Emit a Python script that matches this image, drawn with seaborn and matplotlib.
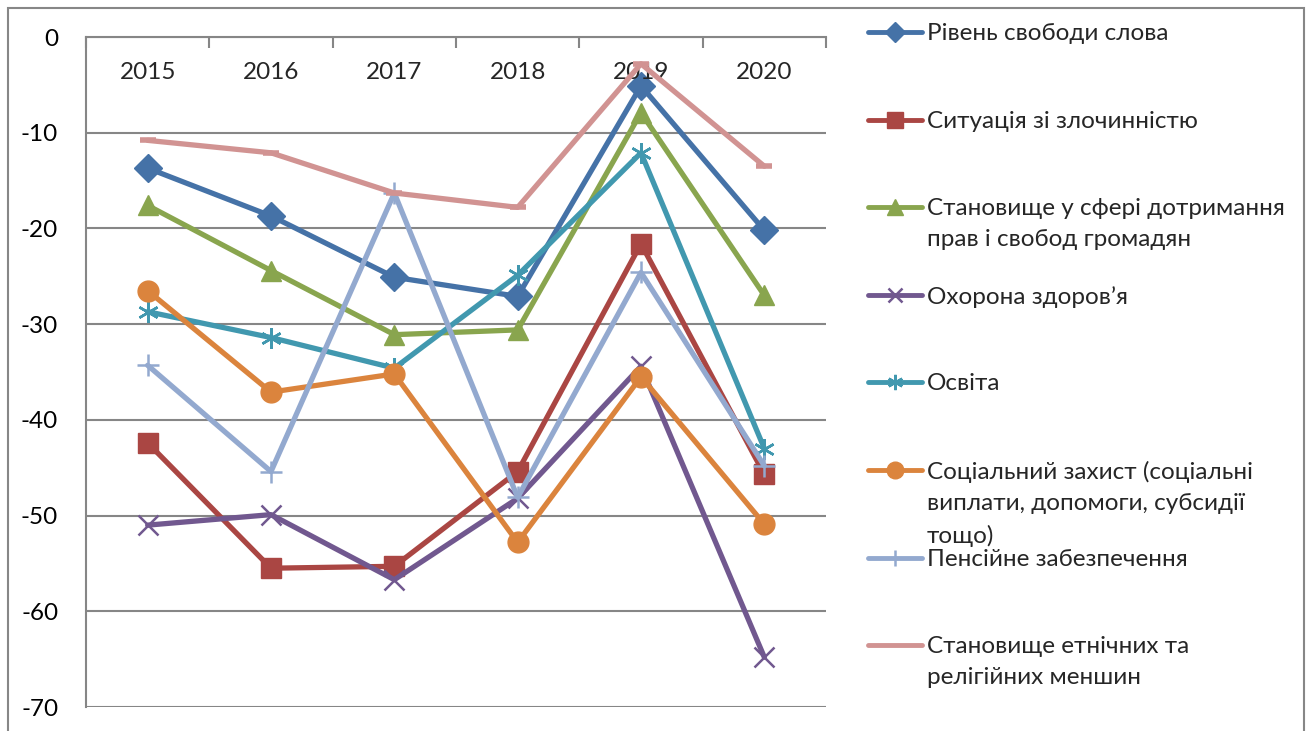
import matplotlib
matplotlib.use("Agg")
import matplotlib.pyplot as plt
import matplotlib.patches as mpatches
from matplotlib.lines import Line2D
import seaborn as sns
import pandas as pd

years = [2015, 2016, 2017, 2018, 2019, 2020]

svoboda_slova = [-13.7, -18.7, -25.1, -27.1, -5.1, -20.2]
zlochynnist = [-42.4, -55.5, -55.3, -45.4, -21.6, -45.7]
prava_svobody = [-17.6, -24.4, -31.1, -30.6, -7.9, -27.0]
okhorona_zdorovia = [-51.0, -49.9, -56.7, -48.2, -34.4, -64.8]
osvita = [-28.7, -31.4, -34.6, -24.9, -12.1, -43.0]
sotsialnyi_zakhyst = [-26.5, -37.1, -35.2, -52.8, -35.5, -50.9]
pensiine = [-34.3, -45.4, -16.3, -48.1, -24.6, -44.8]
menshyny = [-10.8, -12.1, -16.3, -17.8, -2.8, -13.5]

labels = [
    "Рівень свободи слова",
    "Ситуація зі злочинністю",
    "Становище у сфері дотримання\nправ і свобод громадян",
    "Охорона здоров’я",
    "Освіта",
    "Соціальний захист (соціальні\nвиплати, допомоги, субсидії\nтощо)",
    "Пенсійне забезпечення",
    "Становище етнічних та\nрелігійних меншин",
]
series = [svoboda_slova, zlochynnist, prava_svobody, okhorona_zdorovia,
          osvita, sotsialnyi_zakhyst, pensiine, menshyny]

colors = ["#4572A7", "#AA4643", "#89A54E", "#71588F",
          "#4198AF", "#DB843D", "#93A9CF", "#D19392"]
markers = ["D", "s", "^", "x", (6, 2, 0), "o", "+", "_"]
msizes = [14, 14, 15, 14, 15, 15, 16, 12]
mews = [1, 1, 1, 1.8, 1.8, 1, 1.8, 4]

sns.set_style("white")
plt.rcParams["font.family"] = ["Lato", "DejaVu Sans"]
plt.rcParams["axes.unicode_minus"] = False

W, H = 1312, 731
fig = plt.figure(figsize=(W / 100, H / 100), dpi=100)
ax = fig.add_axes([86 / W, 1 - 707 / H, (826 - 86) / W, (707 - 37) / H])

grid_col = "#868686"
for i, vals in enumerate(series):
    df = pd.DataFrame({"year": years, "value": vals})
    sns.lineplot(data=df, x="year", y="value", ax=ax, color=colors[i],
                 linewidth=3.8, marker=markers[i], markersize=msizes[i],
                 markeredgewidth=mews[i], markeredgecolor=colors[i],
                 zorder=3 + i)

ax.set_xlim(2014.5, 2020.5)
ax.set_ylim(-70, 0)
ax.set_xlabel("")
ax.set_ylabel("")

ax.set_yticks(range(-70, 1, 10))
ax.yaxis.grid(True, color=grid_col, linewidth=1.5)
ax.tick_params(axis="y", direction="out", length=8, width=1.5, color=grid_col,
               labelsize=17.5, pad=12, labelcolor="black")

ax.xaxis.tick_top()
ax.set_xticks([y - 0.5 for y in years] + [2020.5])
ax.tick_params(axis="x", direction="in", length=8, width=1.5, color=grid_col,
               labeltop=False, labelbottom=False)
for y in years:
    ax.text(y, -3.75, str(y), ha="center", va="center", fontsize=17.5)

for s in ["right", "bottom"]:
    ax.spines[s].set_visible(False)
for s in ["top", "left"]:
    ax.spines[s].set_color(grid_col)
    ax.spines[s].set_linewidth(1.5)

# legend, spaced evenly like the original
leg_x0, leg_x1 = 868 / W, 922 / W
leg_tx = 927 / W
leg_ms = [10, 11, 11, 10, 11, 12, 12, 0]
for i, lab in enumerate(labels):
    yc = 1 - (32 + 87.6 * i) / H
    fig.add_artist(Line2D([leg_x0, leg_x1], [yc, yc], transform=fig.transFigure,
                          color=colors[i], linewidth=3.5, solid_capstyle="round"))
    if leg_ms[i]:
        fig.add_artist(Line2D([(leg_x0 + leg_x1) / 2], [yc], transform=fig.transFigure,
                              color=colors[i], marker=markers[i], markersize=leg_ms[i],
                              markeredgewidth=mews[i], markeredgecolor=colors[i]))
    fig.text(leg_tx, yc + 9 / H, lab, ha="left", va="top", fontsize=17.5,
             linespacing=1.6)

fig.add_artist(mpatches.Rectangle((8 / W, -0.05), (1304 - 8) / W, 1.05 - 8 / H,
                                  transform=fig.transFigure, fill=False,
                                  edgecolor="#878787", linewidth=1.5))

fig.savefig("out.png", dpi=100)
